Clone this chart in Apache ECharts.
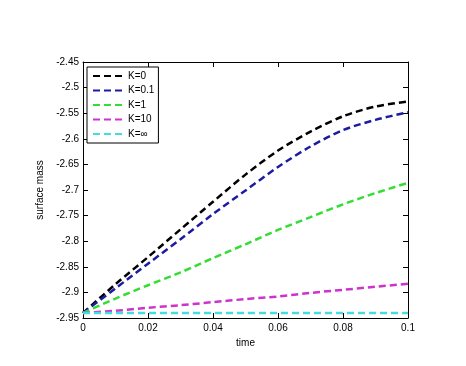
<!DOCTYPE html>
<html>
<head>
<meta charset="utf-8">
<script src="https://cdn.jsdelivr.net/npm/echarts@6/dist/echarts.min.js"></script>
<style>
html,body{margin:0;padding:0;background:#fff;}
#c{width:466px;height:366px;}
</style>
</head>
<body>
<div id="c"></div>
<script>
var times = [0, 0.01, 0.02, 0.03, 0.04, 0.05, 0.06, 0.07, 0.08, 0.09, 0.1];
var seriesNames = ['K=0', 'K=0.1', 'K=1', 'K=10', 'K=\u221e'];
var k0   = [-2.94, -2.884, -2.831, -2.777, -2.723, -2.670, -2.623, -2.586, -2.556, -2.537, -2.527];
var k01  = [-2.94, -2.892, -2.844, -2.796, -2.747, -2.701, -2.655, -2.615, -2.583, -2.563, -2.548];
var k1   = [-2.94, -2.912, -2.886, -2.861, -2.833, -2.806, -2.778, -2.753, -2.728, -2.706, -2.686];
var k10  = [-2.94, -2.936, -2.930, -2.925, -2.919, -2.913, -2.908, -2.901, -2.895, -2.889, -2.883];
var kinf = [-2.94, -2.94, -2.94, -2.94, -2.94, -2.94, -2.94, -2.94, -2.94, -2.94, -2.94];
var xTickLabels = ['0', '0.02', '0.04', '0.06', '0.08', '0.1'];
var yTickLabels = ['-2.95', '-2.9', '-2.85', '-2.8', '-2.75', '-2.7', '-2.65', '-2.6', '-2.55', '-2.5', '-2.45'];
var colors = ['#000000', '#1c1ca0', '#33dd33', '#cc33cc', '#44dddd'];

var allValues = [k0, k01, k1, k10, kinf];
var FONT = 'Liberation Sans, Arial, Helvetica, sans-serif';
var xMin = 0, xMax = 0.1, xInt = 0.02;
var yMin = -2.95, yMax = -2.45, yInt = 0.05;

function xFmt(v){ var i = Math.round((v - xMin) / xInt); return xTickLabels[i] !== undefined ? xTickLabels[i] : ''; }
function yFmt(v){ var i = Math.round((v - yMin) / yInt); return yTickLabels[i] !== undefined ? yTickLabels[i] : ''; }

var series = allValues.map(function(vals, si){
  return {
    name: seriesNames[si],
    type: 'line',
    symbol: 'none',
    smooth: 0.3,
    animation: false,
    xAxisIndex: 0, yAxisIndex: 0,
    data: times.map(function(t, i){ return [t, vals[i]]; }),
    lineStyle: { color: colors[si], width: 2.5, type: [7, 4] },
    itemStyle: { color: colors[si] }
  };
});

var axisCommonX = {
  type: 'value', min: xMin, max: xMax, interval: xInt,
  axisLine: { show: true, onZero: false, lineStyle: { color: '#000', width: 1 } },
  axisTick: { show: true, inside: true, length: 5, lineStyle: { color: '#000' } },
  splitLine: { show: false }
};
var axisCommonY = {
  type: 'value', min: yMin, max: yMax, interval: yInt,
  axisLine: { show: true, onZero: false, lineStyle: { color: '#000', width: 1 } },
  axisTick: { show: true, inside: true, length: 5, lineStyle: { color: '#000' } },
  splitLine: { show: false }
};

var option = {
  backgroundColor: '#fff',
  animation: false,
  grid: { left: 83, right: 58, top: 62, bottom: 48, containLabel: false },
  legend: {
    orient: 'vertical', left: 87, top: 67,
    data: seriesNames,
    itemWidth: 30, itemHeight: 10, itemGap: 4.5,
    padding: [4, 4, 4, 5],
    backgroundColor: '#fff', borderColor: '#000', borderWidth: 1,
    itemStyle: { opacity: 0 },
    textStyle: { fontFamily: FONT, fontSize: 10, color: '#000' }
  },
  xAxis: [
    Object.assign({}, axisCommonX, {
      position: 'bottom',
      name: 'time', nameLocation: 'middle', nameGap: 16,
      nameTextStyle: { fontFamily: FONT, fontSize: 10, color: '#000' },
      axisLabel: { show: true, formatter: xFmt, fontFamily: FONT, fontSize: 10, color: '#000', margin: 5 }
    }),
    Object.assign({}, axisCommonX, { position: 'top', axisLabel: { show: false } })
  ],
  yAxis: [
    Object.assign({}, axisCommonY, {
      position: 'left',
      name: 'surface mass', nameLocation: 'middle', nameGap: 31,
      nameTextStyle: { fontFamily: FONT, fontSize: 10, color: '#000' },
      axisLabel: { show: true, formatter: yFmt, fontFamily: FONT, fontSize: 10, color: '#000', margin: 4 }
    }),
    Object.assign({}, axisCommonY, { position: 'right', axisLabel: { show: false } })
  ],
  series: series
};

var chart = echarts.init(document.getElementById('c'), null, { renderer: 'canvas' });
chart.setOption(option);
</script>
</body>
</html>
